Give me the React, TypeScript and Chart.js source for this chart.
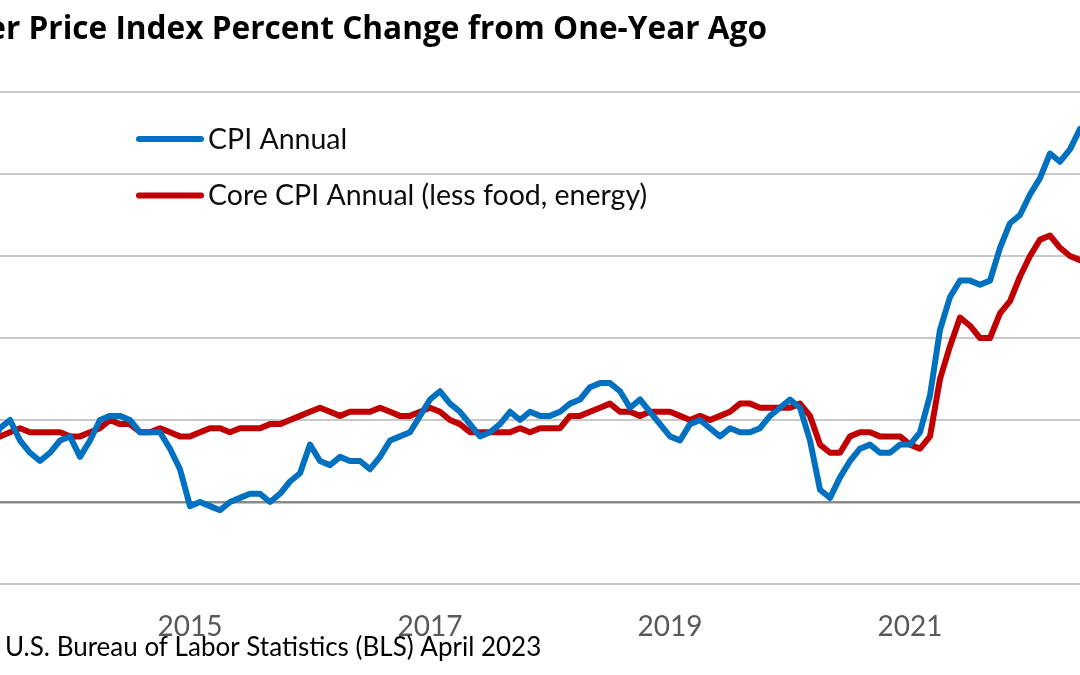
import React, { useEffect, useRef } from 'react';
import { Chart, registerables } from 'chart.js';

Chart.register(...registerables);

// Monthly observations, January 2013 .. April 2023
const startYear = 2013;
const monthNames = ['Jan', 'Feb', 'Mar', 'Apr', 'May', 'Jun', 'Jul', 'Aug', 'Sep', 'Oct', 'Nov', 'Dec'];

// CPI-U, percent change from one year ago
const cpiAnnual = [
  1.6, 2.0, 1.5, 1.1, 1.4, 1.8, 2.0, 1.5, 1.2, 1.0, 1.2, 1.5, // 2013
  1.6, 1.1, 1.5, 2.0, 2.1, 2.1, 2.0, 1.7, 1.7, 1.7, 1.3, 0.8, // 2014
  -0.1, 0.0, -0.1, -0.2, 0.0, 0.1, 0.2, 0.2, 0.0, 0.2, 0.5, 0.7, // 2015
  1.4, 1.0, 0.9, 1.1, 1.0, 1.0, 0.8, 1.1, 1.5, 1.6, 1.7, 2.1, // 2016
  2.5, 2.7, 2.4, 2.2, 1.9, 1.6, 1.7, 1.9, 2.2, 2.0, 2.2, 2.1, // 2017
  2.1, 2.2, 2.4, 2.5, 2.8, 2.9, 2.9, 2.7, 2.3, 2.5, 2.2, 1.9, // 2018
  1.6, 1.5, 1.9, 2.0, 1.8, 1.6, 1.8, 1.7, 1.7, 1.8, 2.1, 2.3, // 2019
  2.5, 2.3, 1.5, 0.3, 0.1, 0.6, 1.0, 1.3, 1.4, 1.2, 1.2, 1.4, // 2020
  1.4, 1.7, 2.6, 4.2, 5.0, 5.4, 5.4, 5.3, 5.4, 6.2, 6.8, 7.0, // 2021
  7.5, 7.9, 8.5, 8.3, 8.6, 9.1, 8.5, 8.3, 8.2, 7.7, 7.1, 6.5, // 2022
  6.4, 6.0, 5.0, 4.9, // 2023
];

// Core CPI (less food and energy), percent change from one year ago
const coreCpiAnnual = [
  1.9, 2.0, 1.9, 1.7, 1.7, 1.6, 1.7, 1.8, 1.7, 1.7, 1.7, 1.7, // 2013
  1.6, 1.6, 1.7, 1.8, 2.0, 1.9, 1.9, 1.7, 1.7, 1.8, 1.7, 1.6, // 2014
  1.6, 1.7, 1.8, 1.8, 1.7, 1.8, 1.8, 1.8, 1.9, 1.9, 2.0, 2.1, // 2015
  2.2, 2.3, 2.2, 2.1, 2.2, 2.2, 2.2, 2.3, 2.2, 2.1, 2.1, 2.2, // 2016
  2.3, 2.2, 2.0, 1.9, 1.7, 1.7, 1.7, 1.7, 1.7, 1.8, 1.7, 1.8, // 2017
  1.8, 1.8, 2.1, 2.1, 2.2, 2.3, 2.4, 2.2, 2.2, 2.1, 2.2, 2.2, // 2018
  2.2, 2.1, 2.0, 2.1, 2.0, 2.1, 2.2, 2.4, 2.4, 2.3, 2.3, 2.3, // 2019
  2.3, 2.4, 2.1, 1.4, 1.2, 1.2, 1.6, 1.7, 1.7, 1.6, 1.6, 1.6, // 2020
  1.4, 1.3, 1.6, 3.0, 3.8, 4.5, 4.3, 4.0, 4.0, 4.6, 4.9, 5.5, // 2021
  6.0, 6.4, 6.5, 6.2, 6.0, 5.9, 5.9, 6.3, 6.6, 6.3, 6.0, 5.7, // 2022
  5.6, 5.5, 5.6, 5.5, // 2023
];

const seriesNames = ['CPI Annual', 'Core CPI Annual (less food, energy)'];
const seriesColors = ['#0070C0', '#C00000'];
const tickYears = ['2013', '2015', '2017', '2019', '2021', '2023'];
const visibleFrom = 'Jun 2013';
const visibleTo = 'Jun 2022';

const titleText = 'Consumer Price Index Percent Change from One-Year Ago';
const sourceText = 'Source: U.S. Bureau of Labor Statistics (BLS) April 2023';

const monthLabels = cpiAnnual.map(
  (_v, i) => `${monthNames[i % 12]} ${startYear + Math.floor(i / 12)}`
);

const FONT = 'Lato, "Open Sans", "Noto Sans", sans-serif';
const TITLE_FONT = '"Open Sans", Lato, "Noto Sans", sans-serif';

const overlayPlugin = {
  id: 'overlayText',
  afterDraw(chart: any) {
    const ctx = chart.ctx as CanvasRenderingContext2D;
    ctx.save();
    // Title (left part cut off by the frame)
    ctx.font = `bold 31.6px ${TITLE_FONT}`;
    ctx.fillStyle = '#000000';
    ctx.textAlign = 'right';
    ctx.textBaseline = 'alphabetic';
    ctx.fillText(titleText, 767, 39);

    // Legend inside the plot
    chart.data.datasets.forEach((ds: any, i: number) => {
      const y = 139 + i * 56.5;
      ctx.strokeStyle = ds.borderColor;
      ctx.lineWidth = 6;
      ctx.lineCap = 'round';
      ctx.beginPath();
      ctx.moveTo(139, y);
      ctx.lineTo(201, y);
      ctx.stroke();
      ctx.font = `28.5px ${FONT}`;
      ctx.fillStyle = '#0d0d0d';
      ctx.textAlign = 'left';
      ctx.fillText(ds.label, 208, y + 9.5);
    });

    // Source line (prefix cut off by the frame)
    ctx.font = `26px ${FONT}`;
    ctx.fillStyle = '#000000';
    ctx.textAlign = 'left';
    const prefixW = ctx.measureText('Source: ').width;
    ctx.fillText(sourceText, 5 - prefixW, 656);
    ctx.restore();
  },
};

export default function App() {
  const canvasRef = useRef<HTMLCanvasElement | null>(null);

  useEffect(() => {
    if (!canvasRef.current) return;
    const chart = new Chart(canvasRef.current, {
      type: 'line',
      data: {
        labels: monthLabels,
        datasets: [
          {
            label: seriesNames[0],
            data: cpiAnnual,
            borderColor: seriesColors[0],
            backgroundColor: seriesColors[0],
            borderWidth: 6,
            pointRadius: 0,
            tension: 0,
            borderJoinStyle: 'round',
            borderCapStyle: 'round',
          },
          {
            label: seriesNames[1],
            data: coreCpiAnnual,
            borderColor: seriesColors[1],
            backgroundColor: seriesColors[1],
            borderWidth: 6,
            pointRadius: 0,
            tension: 0,
            borderJoinStyle: 'round',
            borderCapStyle: 'round',
          },
        ],
      },
      options: {
        responsive: false,
        animation: false,
        layout: { padding: { top: 92, left: 0, right: 0, bottom: 0 } },
        plugins: {
          legend: { display: false },
          title: { display: false },
          tooltip: { enabled: false },
        },
        scales: {
          x: {
            type: 'category',
            min: visibleFrom,
            max: visibleTo,
            offset: false,
            grid: { display: false, drawTicks: false },
            border: { display: false },
            afterFit: (scale: any) => {
              scale.height = 91;
              scale.paddingLeft = 0;
              scale.paddingRight = 0;
            },
            ticks: {
              autoSkip: false,
              maxRotation: 0,
              minRotation: 0,
              padding: 26,
              color: '#595959',
              font: { family: FONT, size: 28 },
              callback: function (this: any, value: any) {
                const lab = monthLabels[value as number] || '';
                const [m, y] = lab.split(' ');
                return m === 'Jan' && tickYears.includes(y) ? y : '';
              },
            },
          },
          y: {
            min: -2,
            max: 10,
            afterFit: (scale: any) => {
              scale.width = 0;
              scale.paddingTop = 0;
              scale.paddingBottom = 0;
            },
            ticks: { stepSize: 2, display: false },
            border: { display: false },
            grid: {
              drawTicks: false,
              color: (c: any) => (c.tick && c.tick.value === 0 ? '#8a8a8a' : '#c8c8c8'),
              lineWidth: (c: any) => (c.tick && c.tick.value === 0 ? 2.5 : 2),
            },
          },
        },
      },
      plugins: [overlayPlugin],
    });
    return () => chart.destroy();
  }, []);

  return (
    <div
      style={{
        position: 'fixed',
        left: 0,
        top: 0,
        width: 1080,
        height: 675,
        overflow: 'hidden',
        background: '#ffffff',
      }}
    >
      <canvas ref={canvasRef} width={1080} height={675} style={{ width: 1080, height: 675, display: 'block' }} />
    </div>
  );
}
